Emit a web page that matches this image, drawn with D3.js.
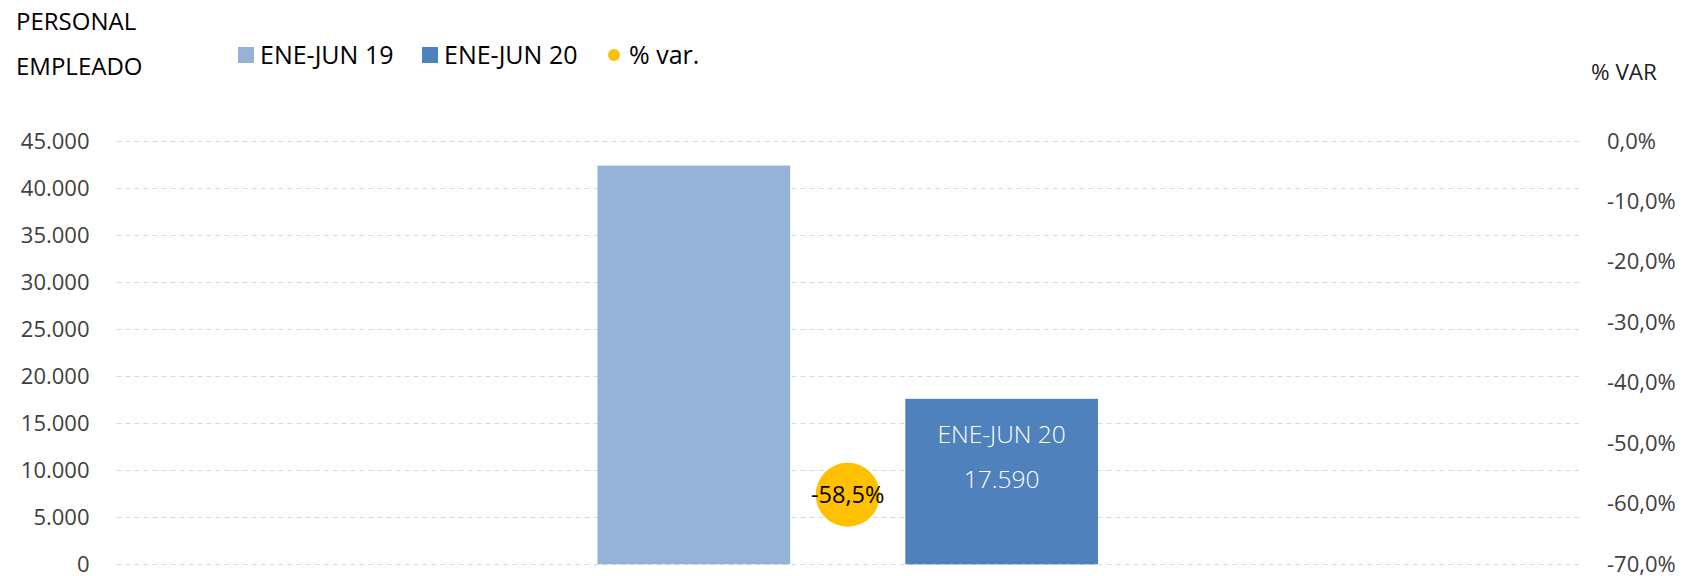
<!DOCTYPE html>
<html lang="es">
  <head>
    <meta charset="UTF-8" />
    <title>Personal empleado</title>
    <style>
      body { margin: 0; background: #fff; }
      svg text { font-family: "Open Sans", "Noto Sans", sans-serif; }
      .grid line { stroke: #d9d9d9; stroke-dasharray: 5,4; }
    </style>
  </head>
  <body>
    <div id="wrapper"></div>
    <script src="https://d3js.org/d3.v7.min.js"></script>
    <script>
      // datos
      const categories = ["ENE-JUN"];
      const seriesNames = ["ENE-JUN 19", "ENE-JUN 20"];
      const values19 = [42390];
      const values20 = [17590];
      const pctVar = [-58.5];
      const leftTicks = [0, 5000, 10000, 15000, 20000, 25000, 30000, 35000, 40000, 45000];
      const rightTicks = [0, -10, -20, -30, -40, -50, -60, -70];

      const width = 1688, height = 576;
      const plot = {left: 116.5, right: 1579, top: 141, bottom: 564.3};

      const es = d3.formatLocale({decimal: ",", thousands: ".", grouping: [3], currency: ["", "€"], minus: "-"});
      const fmtInt = es.format(",d");
      const fmtPct = es.format(".1f");

      const svg = d3.select("#wrapper")
        .append("svg")
          .attr("width", width)
          .attr("height", height);

      const y = d3.scaleLinear().domain([0, 45000]).range([plot.bottom, plot.top]);
      const yR = d3.scaleLinear().domain([-70, 0]).range([plot.bottom, plot.top]);

      const x0 = d3.scaleBand().domain(categories).range([plot.left, plot.right]).paddingOuter(0.961);
      const x1 = d3.scaleBand().domain(seriesNames).range([0, x0.bandwidth()]).paddingInner(0.374);
      const color = d3.scaleOrdinal().domain(seriesNames).range(["#95b3d7", "#4f81bd"]);

      // rejilla
      svg.append("g")
        .attr("class", "grid")
        .selectAll("line")
        .data(leftTicks)
        .join("line")
          .attr("x1", plot.left)
          .attr("x2", plot.right)
          .attr("y1", d => Math.round(y(d)) + 0.5)
          .attr("y2", d => Math.round(y(d)) + 0.5);

      // eje izquierdo
      const axL = svg.append("g")
        .attr("transform", `translate(${plot.left}, 0)`)
        .call(d3.axisLeft(y).tickValues(leftTicks).tickFormat(fmtInt).tickSize(0).tickPadding(27));
      axL.select(".domain").remove();
      axL.selectAll("text").attr("font-size", 22).attr("fill", "#404040").attr("font-family", null);

      // eje derecho
      const axR = svg.append("g")
        .attr("transform", `translate(${plot.right}, 0)`)
        .call(d3.axisRight(yR).tickValues(rightTicks).tickFormat(d => fmtPct(d) + "%").tickSize(0).tickPadding(28));
      axR.select(".domain").remove();
      axR.selectAll("text").attr("font-size", 22).attr("fill", "#404040").attr("font-family", null);

      // barras
      const rows = categories.map((c, i) => ({cat: c, vals: [values19[i], values20[i]], pct: pctVar[i]}));
      const groups = svg.append("g")
        .selectAll("g")
        .data(rows)
        .join("g")
          .attr("transform", d => `translate(${x0(d.cat)}, 0)`);

      groups.selectAll("rect")
        .data(d => seriesNames.map((s, j) => ({s: s, v: d.vals[j]})))
        .join("rect")
          .attr("x", d => x1(d.s))
          .attr("width", x1.bandwidth())
          .attr("y", d => y(d.v))
          .attr("height", d => y(0) - y(d.v))
          .attr("fill", d => color(d.s));

      // etiqueta dentro de la barra 20
      const last = seriesNames[1];
      groups.append("text")
        .attr("x", x1(last) + x1.bandwidth() / 2)
        .attr("y", d => y(d.vals[1]) + 44)
        .attr("text-anchor", "middle")
        .attr("font-size", 24.5)
        .attr("font-weight", 300)
        .attr("fill", "#ffffff")
        .text(last);
      groups.append("text")
        .attr("x", x1(last) + x1.bandwidth() / 2)
        .attr("y", d => y(d.vals[1]) + 89)
        .attr("text-anchor", "middle")
        .attr("font-size", 24.5)
        .attr("font-weight", 300)
        .attr("fill", "#ffffff")
        .text(d => fmtInt(d.vals[1]));

      // punto % var
      groups.append("circle")
        .attr("cx", x0.bandwidth() / 2)
        .attr("cy", d => yR(d.pct))
        .attr("r", 32)
        .attr("fill", "#ffc000");
      groups.append("text")
        .attr("x", x0.bandwidth() / 2)
        .attr("y", d => yR(d.pct))
        .attr("dy", "0.35em")
        .attr("text-anchor", "middle")
        .attr("font-size", 23.5)
        .attr("fill", "#000")
        .text(d => fmtPct(d.pct) + "%");

      // títulos
      svg.append("text").attr("x", 16).attr("y", 30).attr("font-size", 24).attr("fill", "#000").text("PERSONAL");
      svg.append("text").attr("x", 16).attr("y", 75).attr("font-size", 24).attr("fill", "#000").text("EMPLEADO");
      svg.append("text").attr("x", 1657).attr("y", 80).attr("text-anchor", "end").attr("font-size", 22.5).attr("fill", "#222").text("% VAR");

      // leyenda
      const legend = [
        {label: seriesNames[0], type: "rect", color: color(seriesNames[0]), x: 238},
        {label: seriesNames[1], type: "rect", color: color(seriesNames[1]), x: 422},
        {label: "% var.", type: "circle", color: "#ffc000", x: 607}
      ];
      const lg = svg.append("g").selectAll("g").data(legend).join("g")
        .attr("transform", d => `translate(${d.x}, 55)`);
      lg.filter(d => d.type === "rect").append("rect")
        .attr("x", 0).attr("y", -8).attr("width", 16).attr("height", 16)
        .attr("fill", d => d.color);
      lg.filter(d => d.type === "circle").append("circle")
        .attr("cx", 7).attr("cy", 0).attr("r", 6)
        .attr("fill", d => d.color);
      lg.append("text")
        .attr("x", 22)
        .attr("y", 0)
        .attr("dy", "0.35em")
        .attr("font-size", 25)
        .attr("fill", "#000")
        .text(d => d.label);
    </script>
  </body>
</html>
